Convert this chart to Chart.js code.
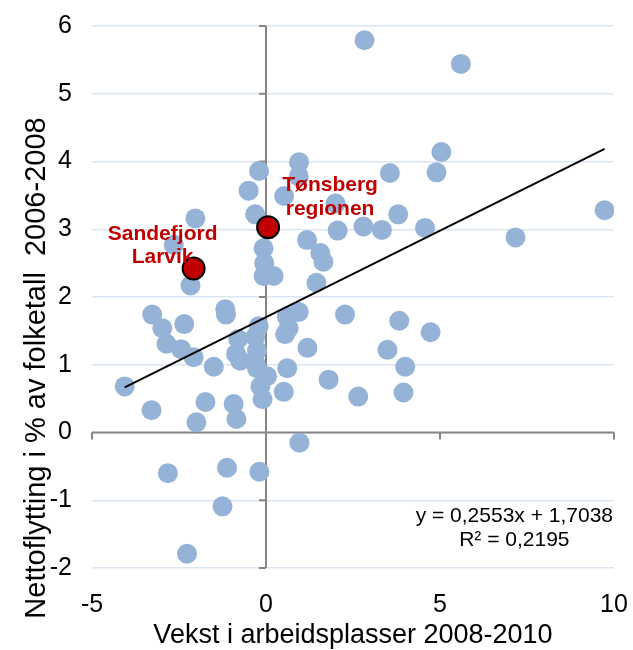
<!DOCTYPE html>
<html>
<head>
<meta charset="utf-8">
<script src="https://cdn.jsdelivr.net/npm/chart.js@4.4.1/dist/chart.umd.min.js"></script>
<style>
  html, body { margin: 0; padding: 0; background: #fff; }
  #wrap { width: 633px; height: 650px; }
</style>
</head>
<body>
<div id="wrap"><canvas id="chart" width="633" height="650"></canvas></div>
<script>
// ----- DATA -----
// x: vekst i arbeidsplasser 2008-2010, y: nettoflytting 2006-2008 (% av folketall)
const jobGrowth = [
    2.83, 5.60, 5.04, 4.90, 3.56, 0.95, 0.94, 0.52, 2.00, 3.80,
    4.57, 2.80, 3.33, 2.06, 1.18, 1.56, 1.65, 1.45, 7.17, 9.73,
    -0.20, -0.50, -0.31, -2.03, -0.07, -2.65, -0.05, -0.07, 0.22, -2.17,
    -3.27, -2.98, -2.35, -2.86, -2.44, -2.08, -1.50, -1.17, -1.15, -0.80,
    -0.86, -0.74, -0.21, -0.31, -0.26, -0.31, -0.26, 0.03, -0.16, -0.10,
    0.60, 0.94, 0.65, 0.55, 1.19, 0.61, 0.51, 1.80, 2.27, 2.65,
    -4.06, -3.29, -1.74, -2.00, -0.93, -0.85, 0.96, -2.82, -1.12, -0.19,
    -1.25, -2.27, 3.83, 4.73, 3.49, 4.00, 3.95
];
const netMigration = [
    5.79, 5.44, 4.14, 3.84, 3.83, 3.99, 3.78, 3.49, 3.38, 3.22,
    3.02, 3.04, 2.99, 2.98, 2.84, 2.65, 2.52, 2.21, 2.88, 3.28,
    3.86, 3.57, 3.22, 3.16, 2.72, 2.77, 2.50, 2.31, 2.31, 2.17,
    1.74, 1.54, 1.60, 1.31, 1.23, 1.11, 0.97, 1.82, 1.74, 1.38,
    1.16, 1.06, 1.57, 1.41, 1.21, 1.04, 0.95, 0.83, 0.68, 0.49,
    1.71, 1.78, 1.54, 1.45, 1.25, 0.95, 0.60, 0.78, 1.74, 0.53,
    0.68, 0.33, 0.45, 0.15, 0.42, 0.20, -0.15, -0.60, -0.52, -0.58,
    -1.09, -1.79, 1.65, 1.48, 1.22, 0.97, 0.59
];

const highlightNames = [['Sandefjord', 'Larvik'], ['Tønsberg', 'regionen']];
const highlightX = [-2.08, 0.06];
const highlightY = [2.42, 3.03];

const xTicks = [-5, 0, 5, 10];
const yTicks = [-2, -1, 0, 1, 2, 3, 4, 5, 6];

// lineær trendlinje fra Excel
const trendSlope = 0.2553;
const trendIntercept = 1.7038;
const equationLines = ['y = 0,2553x + 1,7038', 'R² = 0,2195'];

const xTitle = 'Vekst i arbeidsplasser 2008-2010';
const yTitle = 'Nettoflytting i % av folketall  2006-2008';

// ----- STYLE -----
const FONT = '"Liberation Sans", Arial, sans-serif';
const BLUE = '#95B3D7';
const RED = '#C00000';
const AXIS_GREY = '#868686';

const xMinData = Math.min(...jobGrowth);
const xMaxData = Math.max(...jobGrowth);

const scatterPoints = jobGrowth.map((x, i) => ({ x, y: netMigration[i] }));
const highlightPoints = highlightX.map((x, i) => ({ x, y: highlightY[i] }));
const trendPoints = [xMinData, xMaxData].map(x => ({ x, y: trendSlope * x + trendIntercept }));

// label offsets (px) from each highlighted point: [dx, baseline dy of each line]
const labelOffsets = [[-31, [-29, -6]], [62, [-36, -12]]];

const overlayPlugin = {
    id: 'overlay',
    beforeDatasetsDraw(chart) {
        const { ctx, chartArea, scales: { x, y } } = chart;
        const x0 = x.getPixelForValue(0);
        const y0 = y.getPixelForValue(0);
        ctx.save();
        ctx.strokeStyle = AXIS_GREY;
        ctx.lineWidth = 2;
        ctx.beginPath();
        // vertical axis through x = 0
        ctx.moveTo(x0, chartArea.top);
        ctx.lineTo(x0, chartArea.bottom);
        yTicks.forEach(v => {
            const p = y.getPixelForValue(v);
            ctx.moveTo(x0 - 7, p);
            ctx.lineTo(x0, p);
        });
        // horizontal axis through y = 0
        ctx.moveTo(chartArea.left, y0);
        ctx.lineTo(chartArea.right, y0);
        xTicks.forEach(v => {
            const p = x.getPixelForValue(v);
            ctx.moveTo(p, y0);
            ctx.lineTo(p, y0 + 7);
        });
        ctx.stroke();
        ctx.restore();
    },
    afterDraw(chart) {
        const { ctx, chartArea, scales: { x, y } } = chart;
        ctx.save();

        // point labels
        ctx.fillStyle = RED;
        ctx.font = `bold 21px ${FONT}`;
        ctx.textAlign = 'center';
        ctx.textBaseline = 'alphabetic';
        highlightNames.forEach((lines, i) => {
            const px = x.getPixelForValue(highlightX[i]);
            const py = y.getPixelForValue(highlightY[i]);
            const [dx, dys] = labelOffsets[i];
            lines.forEach((txt, j) => ctx.fillText(txt, px + dx, py + dys[j]));
        });

        // trendline equation
        ctx.fillStyle = '#000';
        ctx.font = `21px ${FONT}`;
        ctx.textAlign = 'right';
        ctx.fillText(equationLines[0], chartArea.right - 1, 522);
        const eqWidth = ctx.measureText(equationLines[0]).width;
        ctx.textAlign = 'center';
        ctx.fillText(equationLines[1], chartArea.right - 1 - eqWidth / 2, 546);

        // axis titles
        ctx.font = `27px ${FONT}`;
        ctx.textBaseline = 'middle';
        ctx.fillText(xTitle, (chartArea.left + chartArea.right) / 2, 636);
        ctx.translate(37, 368);
        ctx.rotate(-Math.PI / 2);
        ctx.font = `29px ${FONT}`;
        ctx.fillText(yTitle, 0, 0);

        ctx.restore();
    }
};

new Chart(document.getElementById('chart'), {
    type: 'scatter',
    data: {
        datasets: [
            {
                label: 'Highlighted',
                data: highlightPoints,
                backgroundColor: RED,
                borderColor: '#000',
                borderWidth: 2,
                pointRadius: 11,
                order: 0
            },
            {
                label: 'Trend',
                type: 'line',
                data: trendPoints,
                borderColor: '#000',
                borderWidth: 2,
                pointRadius: 0,
                fill: false,
                order: 1
            },
            {
                label: 'Kommuner',
                data: scatterPoints,
                backgroundColor: BLUE,
                borderWidth: 0,
                pointRadius: 10,
                order: 2
            }
        ]
    },
    options: {
        responsive: false,
        animation: false,
        devicePixelRatio: 1,
        events: [],
        layout: { padding: { top: 26, right: 19, left: 0, bottom: 0 } },
        plugins: {
            legend: { display: false },
            tooltip: { enabled: false }
        },
        scales: {
            x: {
                type: 'linear',
                min: -5,
                max: 10,
                afterBuildTicks: scale => { scale.ticks = xTicks.map(value => ({ value })); },
                ticks: {
                    color: '#000',
                    padding: 22,
                    font: { family: FONT, size: 25 },
                    callback: v => String(v)
                },
                grid: { display: false, drawTicks: false },
                border: { display: false },
                afterFit: scale => {
                    scale.height = 82;
                    scale.paddingLeft = 0;
                    scale.paddingRight = 0;
                }
            },
            y: {
                type: 'linear',
                min: -2,
                max: 6,
                afterBuildTicks: scale => { scale.ticks = yTicks.map(value => ({ value })); },
                ticks: {
                    color: '#000',
                    padding: 20,
                    font: { family: FONT, size: 25 },
                    callback: v => String(v)
                },
                grid: { color: '#DBE5F1', lineWidth: 1.5, drawTicks: false },
                border: { display: false },
                afterFit: scale => {
                    scale.width = 92;
                    scale.paddingTop = 0;
                    scale.paddingBottom = 0;
                }
            }
        }
    },
    plugins: [overlayPlugin]
});
</script>
</body>
</html>
